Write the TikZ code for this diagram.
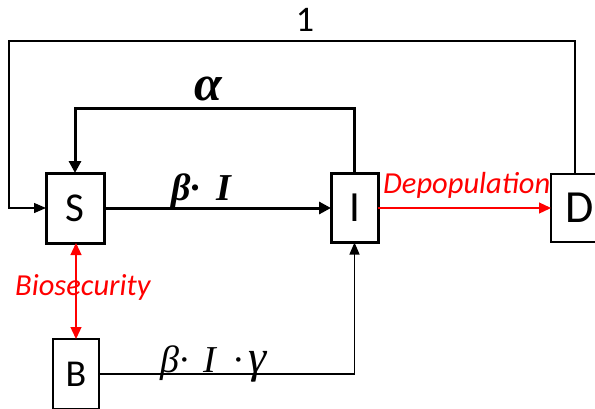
\documentclass[tikz,border=0pt]{standalone}
\usepackage{fontspec}
\setmainfont{Carlito}
\newfontfamily\tms{Liberation Serif}
\usetikzlibrary{arrows.meta}
\definecolor{pured}{RGB}{255,0,0}
\tikzset{
  thickbox/.style={draw, line width=3pt, inner sep=0pt, outer sep=0pt},
  thinbox/.style={draw, line width=1.3pt, inner sep=0pt, outer sep=0pt},
  thickflow/.style={line width=3pt, -{Triangle[length=12pt,width=12pt]}},
  thinflow/.style={line width=1.3pt, -{Triangle[length=12pt,width=10pt]}},
  redflow/.style={line width=1.3pt, draw=pured, -{Triangle[length=12pt,width=11pt]}},
  redboth/.style={line width=1.3pt, draw=pured, {Triangle[length=12pt,width=11pt]}-{Triangle[length=12pt,width=11pt]}},
  redlabel/.style={text=pured, font=\fontsize{30.5}{34}\selectfont\itshape, inner sep=0pt},
  mathlabel/.style={inner sep=0pt, font=\tms\fontsize{38}{42}\selectfont\bfseries\itshape},
}
\begin{document}
\begin{tikzpicture}[x=1pt,y=-1pt]
\useasboundingbox (0,0) rectangle (595,408);
% boxes
\node[thickbox, minimum width=58pt, minimum height=70pt, font=\fontsize{41}{44}\selectfont] (S) at (75,208) {S};
\node[thickbox, minimum width=47pt, minimum height=69pt, font=\fontsize{43}{46}\selectfont] (I) at (354.5,208) {I};
\node[thinbox, minimum width=58pt, minimum height=68pt, font=\fontsize{46}{50}\selectfont] (D) at (580,208) {D};
\node[thinbox, minimum width=46pt, minimum height=70pt, font=\fontsize{38}{40}\selectfont] (B) at (76,374) {B};
% helper coordinates
\coordinate (atop) at (75,108);
\coordinate (otop) at (9,41);
\coordinate (dline) at (575,174);
% connectors
\draw[thickflow] (S.east) -- (I.west);
\draw[thickflow] (I.north) |- (atop) -- (S.north);
\draw[thinflow] (dline) |- (otop) |- (S.west);
\draw[redflow] (I.east) -- (D.west);
\draw[redboth] (B.north) -- (B.north |- S.south);
\draw[thinflow] (B.east) -| (I.south);
% labels
\node[anchor=base, inner sep=0pt, font=\fontsize{36}{40}\selectfont] (one) at (305,31) {1};
\node[mathlabel, anchor=base west, font=\tms\fontsize{50}{54}\selectfont\bfseries\itshape] (alpha) at (194,100) {α};
\node[mathlabel, anchor=base west] (bi) at (171,200) {β·\hspace{16pt}I};
\node[mathlabel, anchor=base west, font=\tms\fontsize{38}{42}\selectfont\itshape] (big) at (160,372) {β·\hspace{15pt}I\hspace{17pt}·\hspace{6pt}{\fontsize{46}{48}\selectfont γ}};
\node[redlabel, anchor=base west] (dep) at (383,193) {Depopulation};
\node[redlabel, anchor=base west] (bio) at (15,295) {Biosecurity};
\end{tikzpicture}
\end{document}
